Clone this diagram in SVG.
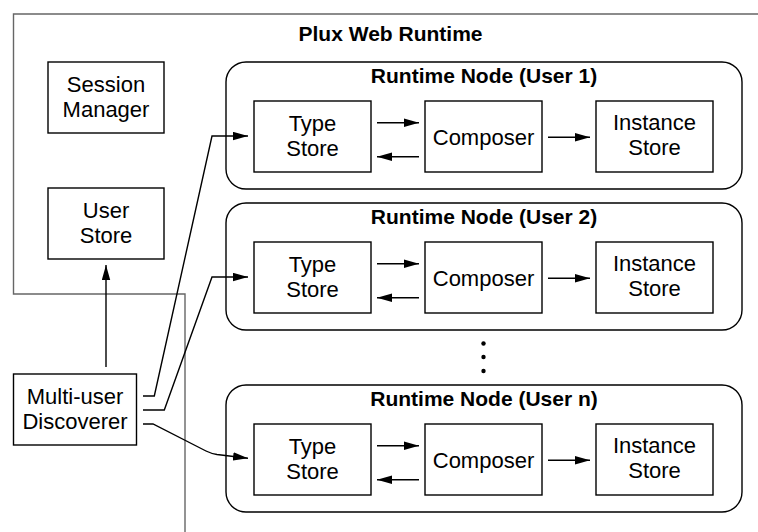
<svg xmlns="http://www.w3.org/2000/svg" width="758" height="532" viewBox="0 0 758 532">
<defs>
<style>
text{font-family:"Liberation Sans",Arial,sans-serif;font-size:22px;fill:#000;text-anchor:middle}
.t{font-weight:bold;font-size:21px}
.box{fill:#fff;stroke:#000;stroke-width:1.4}
.node{fill:#fff;stroke:#000;stroke-width:1.4}
.frame{fill:none;stroke:#666;stroke-width:1.4}
.c{fill:none;stroke:#000;stroke-width:1.4}
</style>
<marker id="ah" markerUnits="userSpaceOnUse" markerWidth="15" markerHeight="9" refX="15" refY="4.5" orient="auto">
<path d="M0,0.3 L15,4.5 L0,8.7 z" fill="#000"/>
</marker>
</defs>
<rect width="758" height="532" fill="#fff"/>
<g id="frame">
<path class="frame" d="M758,14 H13.5 V294 H185 V532"/>
<text class="t" x="390.5" y="41">Plux Web Runtime</text>
</g>
<g id="session-manager">
<rect class="box" x="48" y="62" width="116" height="71"/>
<text x="106" y="92">Session</text>
<text x="106" y="117">Manager</text>
</g>
<g id="user-store">
<rect class="box" x="48" y="188" width="116" height="71"/>
<text x="106" y="218">User</text>
<text x="106" y="243">Store</text>
</g>
<g id="multi-user-discoverer">
<rect class="box" x="13.5" y="374" width="123" height="71"/>
<text x="75" y="404">Multi-user</text>
<text x="75" y="428.5">Discoverer</text>
</g>
<g id="runtime-node-1">
<rect class="node" x="226" y="62" width="516" height="127" rx="20"/>
<text class="t" x="484" y="83">Runtime Node (User 1)</text>
<g id="type-store-1"><rect class="box" x="254" y="101" width="117" height="71"/><text x="312.5" y="131">Type</text><text x="312.5" y="156">Store</text></g>
<g id="composer-1"><rect class="box" x="425" y="101" width="117" height="71"/><text x="483.5" y="145">Composer</text></g>
<g id="instance-store-1"><rect class="box" x="596" y="101" width="117" height="71"/><text x="654.5" y="130">Instance</text><text x="654.5" y="155">Store</text></g>
</g>
<g id="runtime-node-2">
<rect class="node" x="226" y="203" width="516" height="127" rx="20"/>
<text class="t" x="484" y="224">Runtime Node (User 2)</text>
<g id="type-store-2"><rect class="box" x="254" y="242" width="117" height="71"/><text x="312.5" y="272">Type</text><text x="312.5" y="297">Store</text></g>
<g id="composer-2"><rect class="box" x="425" y="242" width="117" height="71"/><text x="483.5" y="286">Composer</text></g>
<g id="instance-store-2"><rect class="box" x="596" y="242" width="117" height="71"/><text x="654.5" y="271">Instance</text><text x="654.5" y="296">Store</text></g>
</g>
<g id="ellipsis">
<circle cx="483.5" cy="343.5" r="2.2"/>
<circle cx="483.5" cy="357" r="2.2"/>
<circle cx="483.5" cy="371" r="2.2"/>
</g>
<g id="runtime-node-n">
<rect class="node" x="226" y="385" width="516" height="127" rx="20"/>
<text class="t" x="484" y="406">Runtime Node (User n)</text>
<g id="type-store-n"><rect class="box" x="254" y="424" width="117" height="71"/><text x="312.5" y="454">Type</text><text x="312.5" y="479">Store</text></g>
<g id="composer-n"><rect class="box" x="425" y="424" width="117" height="71"/><text x="483.5" y="468">Composer</text></g>
<g id="instance-store-n"><rect class="box" x="596" y="424" width="117" height="71"/><text x="654.5" y="453">Instance</text><text x="654.5" y="478">Store</text></g>
</g>
<g id="connectors">
<path class="c" d="M377,122.7 H419" marker-end="url(#ah)"/>
<path class="c" d="M419,156.7 H377" marker-end="url(#ah)"/>
<path class="c" d="M548,137.3 H590" marker-end="url(#ah)"/>
<path class="c" d="M377,263.7 H419" marker-end="url(#ah)"/>
<path class="c" d="M419,297.7 H377" marker-end="url(#ah)"/>
<path class="c" d="M548,278.3 H590" marker-end="url(#ah)"/>
<path class="c" d="M377,445.7 H419" marker-end="url(#ah)"/>
<path class="c" d="M419,479.7 H377" marker-end="url(#ah)"/>
<path class="c" d="M548,460.3 H590" marker-end="url(#ah)"/>
<path class="c" d="M106,367 V265" marker-end="url(#ah)"/>
<path class="c" d="M143,396 H154.3 L212,136 H248" marker-end="url(#ah)"/>
<path class="c" d="M143,410 H164.3 L212,277 H248" marker-end="url(#ah)"/>
<path class="c" d="M143,424 H153 L206,451 Q211,453.5 217,454.5 L248,458.3" marker-end="url(#ah)"/>
</g>
</svg>
